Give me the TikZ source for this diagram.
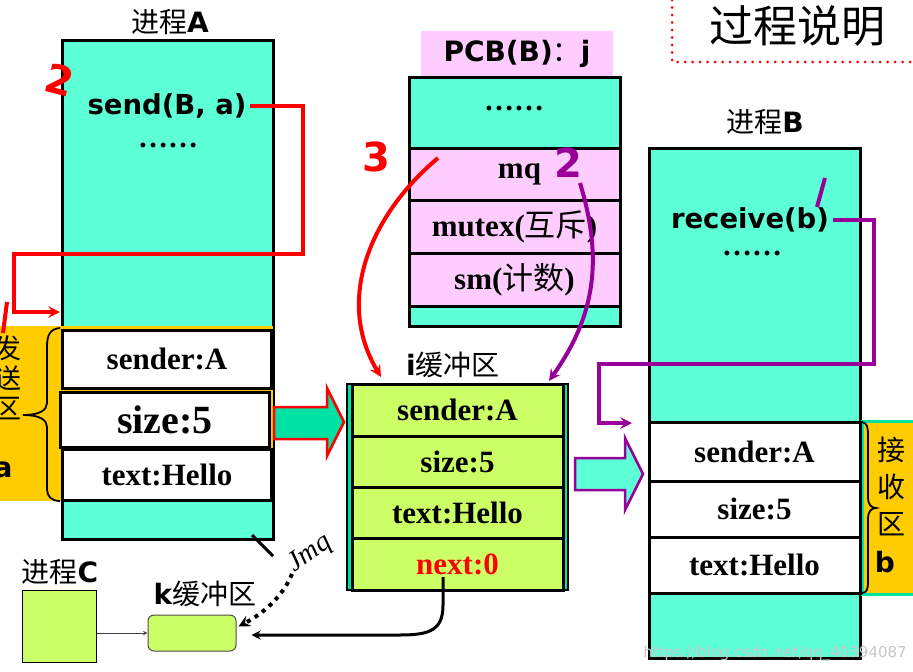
\documentclass[tikz,border=0pt]{standalone}
\usepackage{fontspec}
\setmainfont{Liberation Serif}
\setsansfont{DejaVu Sans}
\newfontfamily\cjk{Noto Sans CJK SC}
\usetikzlibrary{arrows}
\usetikzlibrary{calc}

\definecolor{aqua}{RGB}{92,255,214}
\definecolor{seagreen}{RGB}{0,226,164}
\definecolor{gold}{RGB}{255,204,0}
\definecolor{lightpink}{RGB}{255,204,255}
\definecolor{lime}{RGB}{204,255,102}
\definecolor{purp}{RGB}{153,0,153}

\newcommand{\cellfont}{\fontsize{31}{34}\selectfont\bfseries}
\newcommand{\codefont}{\fontsize{27.5}{30}\selectfont\sffamily\bfseries}
\newcommand{\labfont}{\fontsize{28}{32}\selectfont}
\newcommand{\dotsfont}{\fontsize{30}{32}\selectfont\bfseries}
\newcommand{\hand}[1]{\fontsize{40}{40}\selectfont\sffamily\bfseries #1}

\begin{document}
\begin{tikzpicture}[x=1pt, y=-1pt, >=stealth]
		\useasboundingbox (0,0) rectangle (913,672);
		
		% process A
		\node (pA) [draw, line width=3pt, fill=aqua, minimum width=211, minimum height=499, inner sep=0] at (167.5,289.5) {};
		\node (tA) [font=\labfont] at (170,22) {{\cjk 进程}{\sffamily\bfseries A}};
		\node (snd) [font=\codefont] at (167,106) {send(B, a)};
		\node (dA) [font=\dotsfont] at (168,145) {……};
		\fill [gold] (-5,326) rectangle (273,501);
		
		\begin{scope}[every node/.style={draw, line width=3pt, fill=white, minimum width=209, inner sep=0, font=\cellfont}]
		\node (a1) [minimum height=58] at (167,359) {sender:A};
		\node (a2) [minimum height=55, font=\fontsize{40}{44}\selectfont\bfseries] at (165,419.5) {size:5};
		\node (a3) [minimum height=51] at (167,475) {text:Hello};
		\end{scope}
		
		\draw [line width=1.8pt] (60,328) .. controls (50,329) and (47,335) .. (47,347) -- (47,403)
		.. controls (47,410) and (40,415) .. (23,415) .. controls (40,415) and (47,420) .. (47,427)
		-- (47,489) .. controls (47,496) and (51,501) .. (60,501);
		\node (sa) [font=\fontsize{27}{30}\selectfont\cjk, align=center, inner sep=0] at (8,378) {发\\送\\区};
		\node (sab) [font=\labfont\sffamily\bfseries] at (3,470) {a};
		
		% red path from send
		\coordinate (inA) at (60,312);
		\draw [red, line width=4pt, ->] (snd.east) -| (303,254) -| (14,312) -- (inA);
		\draw [red, line width=4pt] (7,302) -- (3,333);
		\node (h1) [red, font=\hand{}, rotate=-15] at (60,80) {2};
		
		% block arrow A -> i
		\draw [red, line width=2.5pt, fill=seagreen] (274,407) -- (327,407) -- (327,388) -- (344,422)
		-- (327,456) -- (327,439) -- (274,439) -- cycle;
		
		% PCB(B)
		\node (pcbl) [fill=lightpink, minimum width=192, minimum height=46, inner sep=0, font=\fontsize{28}{30}\selectfont\sffamily\bfseries] at (517,53.5) {PCB(B){\cjk\mdseries ：}j};
		\node (pcb) [draw, line width=3pt, fill=aqua, minimum width=211, minimum height=249, inner sep=0] at (514.5,201.5) {};
		\node (dP) [font=\dotsfont] at (514,108) {……};
		\begin{scope}[every node/.style={draw, line width=3pt, fill=lightpink, minimum width=211, inner sep=0, font=\cellfont}]
		\node (mq) [minimum height=52] at (514.5,174) {\hspace{10pt}mq};
		\node (mutex) [minimum height=53] at (514.5,226.5) {mutex({\cjk\mdseries 互斥})};
		\node (sm) [minimum height=53] at (514.5,279.5) {sm({\cjk\mdseries 计数})};
		\end{scope}
		
		% i buffer
		\node (iL) [font=\labfont] at (453,365) {{\sffamily\bfseries i}{\cjk 缓冲区}};
		\node (ibuf) [draw, line width=2pt, fill=seagreen, minimum width=221, minimum height=206, inner sep=0] at (457.5,487) {};
		\begin{scope}[every node/.style={draw, line width=3pt, fill=lime, minimum width=211, inner sep=0, font=\cellfont}]
		\node (i1) [minimum height=52] at (457.5,410) {sender:A};
		\node (i2) [minimum height=51] at (457.5,461.5) {size:5};
		\node (i3) [minimum height=51] at (457.5,512.5) {text:Hello};
		\node (i4) [minimum height=52, text=red] at (457.5,564) {next:0};
		\end{scope}
		
		% mq pointers
		\coordinate (r3) at (438,158);
		\coordinate (p2) at (580,183);
		\draw [red, line width=4pt, ->] (r3) .. controls (370,215) and (335,300) .. ($(ibuf.north west)+(35,-6)$);
		\draw [purp, line width=4pt, ->] (p2) .. controls (605,265) and (592,320) .. ($(ibuf.north east)+(-20,-2)$);
		\node (h3) [red, font=\hand{}] at (376,157) {3};
		\node (h2) [purp, font=\hand{}] at (568,163) {2};
		
		% process B
		\node (pB) [draw, line width=3pt, fill=aqua, minimum width=211, minimum height=510, inner sep=0] at (754.5,403) {};
		\node (tB) [font=\labfont] at (765,122) {{\cjk 进程}{\sffamily\bfseries B}};
		\node (rcv) [font=\codefont] at (750,220) {receive(b)};
		\node (dB) [font=\dotsfont] at (752,253) {……};
		\draw [purp, line width=4pt] (825,178) -- (817,207);
		\filldraw [fill=gold, draw=seagreen, line width=3pt] (862,421) rectangle (918,594);
		
		\begin{scope}[every node/.style={draw, line width=3pt, fill=white, minimum width=211, inner sep=0, font=\cellfont}]
		\node (b1) [minimum height=59] at (754.5,451.5) {sender:A};
		\node (b2) [minimum height=56] at (754.5,509) {size:5};
		\node (b3) [minimum height=56] at (754.5,565) {text:Hello};
		\end{scope}
		
		\draw [line width=1.8pt] (862,422) .. controls (867,423) and (868,427) .. (868,435) -- (868,498)
		.. controls (868,504) and (871,508) .. (876,508) .. controls (871,508) and (868,512) .. (868,518)
		-- (868,582) .. controls (868,590) and (866,593) .. (862,593);
		\node (rb) [font=\fontsize{28}{37}\selectfont\cjk, align=center, inner sep=0] at (891,486) {接\\收\\区};
		\node (rbb) [font=\labfont\sffamily\bfseries] at (885,562) {b};
		
		% purple path from receive
		\coordinate (inB) at (632,423);
		\draw [purp, line width=4pt, ->] (rcv.east) -| (874,364) -| (599,423) -- (inB);
		
		% block arrow i -> B
		\draw [purp, line width=2.5pt, fill=aqua] (575,458) -- (625,458) -- (625,438) -- (643,474)
		-- (625,510) -- (625,490) -- (575,490) -- cycle;
		
		% process C and k buffer
		\node (tC) [font=\labfont] at (60,572) {{\cjk 进程}{\sffamily\bfseries C}};
		\node (pC) [draw, line width=1pt, fill=lime, minimum width=74, minimum height=72, inner sep=0] at (59,626) {};
		\node (kL) [font=\labfont] at (205,594) {{\sffamily\bfseries k}{\cjk 缓冲区}};
		\node (kbuf) [draw=black!70, line width=1pt, fill=lime, rounded corners=6pt, minimum width=88, minimum height=36, inner sep=0] at (192,633) {};
		\draw [black!75, line width=1pt, ->] (pC.east |- kbuf.west) -- (kbuf.west);
		
		\coordinate (nx) at (443,577);
		\draw [line width=3pt, ->] (nx) -- (443,605) .. controls (443,630) and (430,635) .. (400,635) -- ($(kbuf.east)+(15,2)$);
		
		\draw [line width=3pt] (252,535) -- (273,556);
		\draw [line width=4pt, dash pattern=on 4pt off 5pt, ->] (292,574) .. controls (282,598) and (262,614) .. ($(kbuf.north east)+(2,12)$);
		\node (jmq) [font=\fontsize{28}{28}\selectfont\itshape, rotate=35] at (310,554) {Jmq};
		
		% title
		\draw [red, line width=3pt, dash pattern=on 0pt off 7.5pt, line cap=round] (672,0) |- (913,62);
		\node (title) [font=\fontsize{44}{48}\selectfont\cjk] at (797,26) {过程说明};
		
		\node (wm) [black!22, font=\fontsize{15}{18}\selectfont\sffamily] at (775,654) {https://blog.csdn.net/qq\_40394087};
		
		\end{tikzpicture}
\end{document}
